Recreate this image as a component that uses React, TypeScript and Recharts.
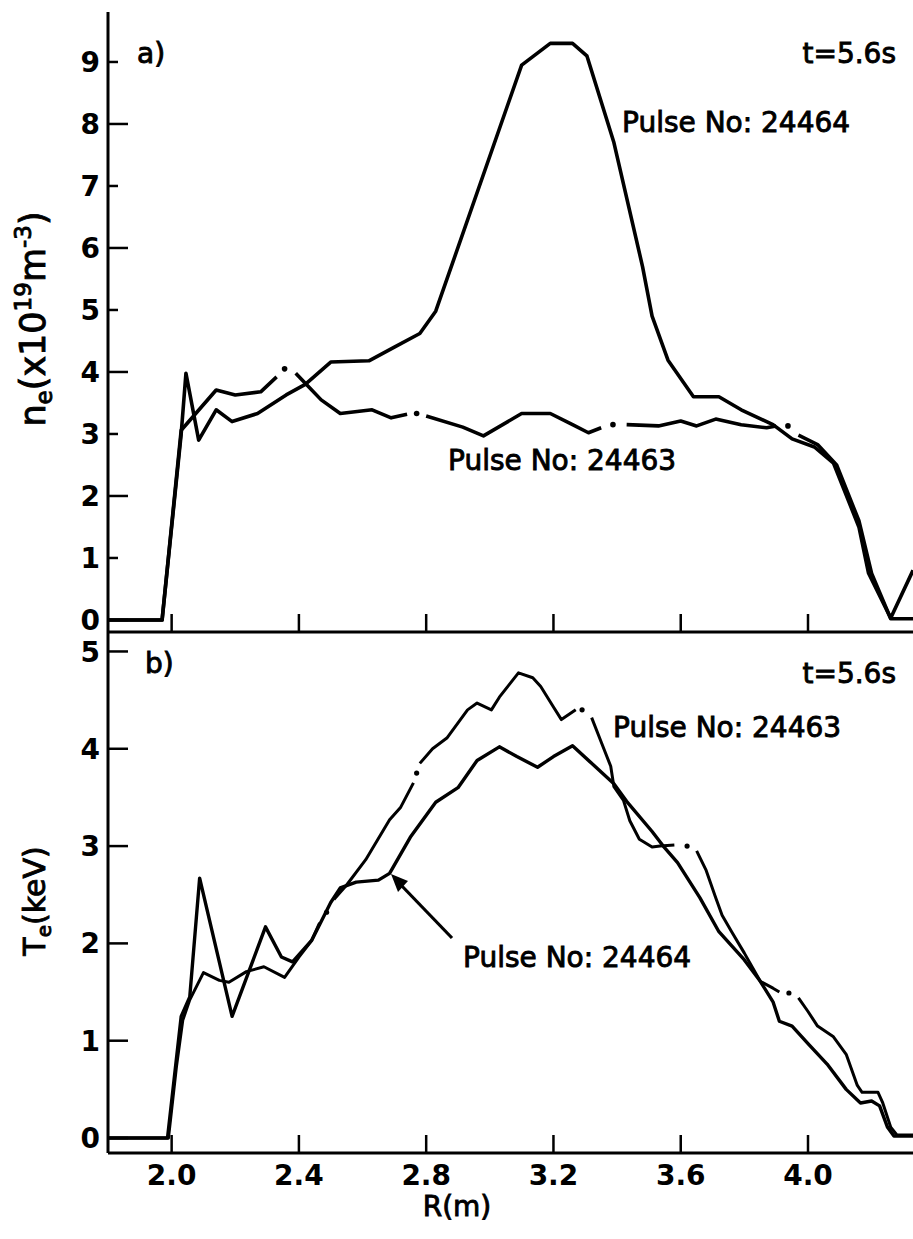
import { ComposedChart, Line, XAxis, YAxis } from "recharts";

type Pt = [number, number | null];

const rTicks = [2.0, 2.4, 2.8, 3.2, 3.6, 4.0];
const neTicks = [0, 1, 2, 3, 4, 5, 6, 7, 8, 9];
const teTicks = [0, 1, 2, 3, 4, 5];

// a) density, Pulse No: 24464 (peaked profile)
const ne24464: Pt[] = [
  [1.8, 0], [1.97, 0], [2.03, 3.0], [2.045, 3.98], [2.085, 2.9], [2.14, 3.39],
  [2.19, 3.2], [2.27, 3.33], [2.36, 3.63], [2.42, 3.8], [2.5, 4.16], [2.62, 4.18],
  [2.7, 4.4], [2.78, 4.62], [2.83, 4.98], [3.1, 8.95], [3.19, 9.3], [3.26, 9.3],
  [3.305, 9.1], [3.39, 7.7], [3.48, 5.7], [3.51, 4.9], [3.56, 4.19], [3.64, 3.6],
  [3.72, 3.6], [3.79, 3.39], [3.89, 3.15], [3.95, 2.92], [4.02, 2.79], [4.08, 2.53],
  [4.16, 1.5], [4.19, 0.76], [4.26, 0.03], [4.33, 0.8],
];

// a) density, Pulse No: 24463 (flat profile, null = gap in the dash-dot trace)
const ne24463: Pt[] = [
  [1.8, 0], [1.97, 0], [2.03, 3.06], [2.14, 3.71], [2.2, 3.63], [2.28, 3.68],
  [2.33, 3.92], [2.355, null], [2.39, 3.98], [2.42, 3.82], [2.47, 3.55], [2.53, 3.33],
  [2.63, 3.39], [2.69, 3.26], [2.74, 3.32], [2.77, null], [2.8, 3.29], [2.915, 3.11],
  [2.98, 2.97], [3.1, 3.33], [3.19, 3.33], [3.26, 3.15], [3.31, 3.02], [3.35, 3.1],
  [3.387, null], [3.43, 3.15], [3.53, 3.13], [3.6, 3.21], [3.65, 3.13], [3.71, 3.24],
  [3.79, 3.15], [3.87, 3.1], [3.9, 3.13], [3.937, null], [3.97, 2.98], [4.03, 2.83],
  [4.09, 2.5], [4.16, 1.6], [4.2, 0.75], [4.26, 0.02], [4.33, 0.02],
];
const ne24463Dots: Pt[] = [[2.355, 4.05], [2.77, 3.33], [3.387, 3.15], [3.937, 3.13]];

// b) temperature, Pulse No: 24464
const te24464: Pt[] = [
  [1.8, 0], [1.987, 0], [2.03, 1.25], [2.057, 1.45], [2.088, 2.67], [2.19, 1.25],
  [2.295, 2.17], [2.345, 1.86], [2.38, 1.81], [2.44, 2.03], [2.5, 2.42], [2.53, 2.57],
  [2.58, 2.63], [2.65, 2.65], [2.685, 2.72], [2.75, 3.09], [2.83, 3.45], [2.9, 3.6],
  [2.96, 3.88], [3.03, 4.02], [3.085, 3.92], [3.15, 3.81], [3.2, 3.92], [3.26, 4.03],
  [3.32, 3.85], [3.39, 3.64], [3.43, 3.46], [3.51, 3.15], [3.545, 3.0], [3.59, 2.83],
  [3.66, 2.47], [3.72, 2.12], [3.8, 1.83], [3.85, 1.61], [3.89, 1.4], [3.91, 1.2],
  [3.95, 1.15], [4.0, 0.97], [4.06, 0.76], [4.12, 0.5], [4.165, 0.36], [4.2, 0.38],
  [4.225, 0.33], [4.25, 0.11], [4.27, 0.02], [4.33, 0.02],
];

// b) temperature, Pulse No: 24463
const te24463: Pt[] = [
  [1.8, 0], [1.99, 0], [2.015, 0.73], [2.035, 1.21], [2.057, 1.42], [2.1, 1.7],
  [2.15, 1.62], [2.18, 1.6], [2.235, 1.71], [2.29, 1.76], [2.355, 1.65], [2.4, 1.86],
  [2.44, 2.03], [2.465, 2.21], [2.487, null], [2.51, 2.45], [2.55, 2.6], [2.61, 2.86],
  [2.685, 3.27], [2.72, 3.4], [2.76, 3.65], [2.77, null], [2.78, 3.85], [2.82, 4.0],
  [2.865, 4.11], [2.93, 4.4], [2.96, 4.47], [3.005, 4.4], [3.03, 4.53], [3.09, 4.78],
  [3.135, 4.73], [3.16, 4.64], [3.2, 4.43], [3.225, 4.3], [3.27, 4.4], [3.29, null],
  [3.32, 4.32], [3.35, 4.07], [3.38, 3.82], [3.39, 3.61], [3.42, 3.47], [3.44, 3.26],
  [3.47, 3.07], [3.51, 2.99], [3.535, 3.0], [3.58, 3.01], [3.62, null], [3.65, 2.95],
  [3.68, 2.75], [3.71, 2.47], [3.73, 2.29], [3.76, 2.12], [3.8, 1.9], [3.85, 1.61],
  [3.89, 1.54], [3.91, 1.5], [3.94, null], [3.97, 1.44], [4.0, 1.3], [4.03, 1.15],
  [4.08, 1.04], [4.12, 0.86], [4.155, 0.54], [4.17, 0.47], [4.22, 0.47], [4.235, 0.36],
  [4.26, 0.11], [4.28, 0.03], [4.33, 0.03],
];
const te24463Dots: Pt[] = [[2.487, 2.32], [2.77, 3.75], [3.29, 4.4], [3.62, 3.0], [3.94, 1.49]];

const rows = (pts: Pt[]) => pts.map(([r, v]) => ({ r, v }));

const FONT = "'DejaVu Sans', sans-serif";
const X_DOMAIN: [number, number] = [1.8, 4.33];

function YTick(props: any) {
  const { x, y, payload, mode } = props;
  const ax = x + 8;
  const len = mode === "alt" ? (payload.value % 2 === 0 ? 20 : 10) : 20;
  return (
    <g>
      <line x1={ax} y1={y} x2={ax + len} y2={y} stroke="#000" strokeWidth={2.5} />
      <text x={x} y={y} dy="0.36em" textAnchor="end" fontFamily={FONT} fontWeight={700} fontSize={28} fill="#000">
        {payload.value}
      </text>
    </g>
  );
}

function XTick(props: any) {
  const { x, y, payload, gap, label } = props;
  const ay = y - gap;
  return (
    <g>
      <line x1={x} y1={ay} x2={x} y2={ay - 18} stroke="#000" strokeWidth={2.5} />
      {label && (
        <text x={x} y={y} dy="0.72em" textAnchor="middle" fontFamily={FONT} fontWeight={700} fontSize={28} fill="#000">
          {payload.value.toFixed(1)}
        </text>
      )}
    </g>
  );
}

const ann = { fontFamily: FONT, fontSize: 28, fill: "#000", stroke: "#000", strokeWidth: 0.9 };

export default function App() {
  return (
    <div style={{ position: "absolute", left: 0, top: 0, width: 913, height: 1239, background: "#fff" }}>
      <div style={{ position: "absolute", left: 0, top: 0 }}>
        <ComposedChart width={913} height={640} margin={{ top: 12, right: 0, bottom: 0, left: 0 }}>
          <XAxis
            dataKey="r"
            type="number"
            domain={X_DOMAIN}
            allowDataOverflow
            ticks={rTicks}
            interval={0}
            height={8}
            tickSize={0}
            tickMargin={0}
            tickLine={false}
            axisLine={{ stroke: "#000", strokeWidth: 3 }}
            tick={(p: any) => <XTick {...p} gap={0} label={false} />}
          />
          <XAxis
            xAxisId="top"
            orientation="top"
            dataKey="r"
            type="number"
            domain={X_DOMAIN}
            allowDataOverflow
            height={0}
            tick={false}
            tickLine={false}
            axisLine={{ stroke: "#000", strokeWidth: 3 }}
          />
          <YAxis
            dataKey="v"
            type="number"
            domain={[-0.194, 9.806]}
            allowDataOverflow
            ticks={neTicks}
            interval={0}
            width={108}
            tickSize={0}
            tickMargin={8}
            tickLine={false}
            axisLine={{ stroke: "#000", strokeWidth: 3 }}
            tick={(p: any) => <YTick {...p} mode="alt" />}
          />
          <Line data={rows(ne24464)} dataKey="v" type="linear" stroke="#000" strokeWidth={3.6} strokeLinejoin="round" dot={false} isAnimationActive={false} />
          <Line data={rows(ne24463)} dataKey="v" type="linear" stroke="#000" strokeWidth={3.6} strokeLinejoin="round" dot={false} connectNulls={false} isAnimationActive={false} />
          <Line data={rows(ne24463Dots)} dataKey="v" stroke="none" strokeWidth={0} dot={{ r: 2.8, fill: "#000", stroke: "none" }} isAnimationActive={false} />
        </ComposedChart>
      </div>

      <div style={{ position: "absolute", left: 0, top: 624 }}>
        <ComposedChart width={913} height={615} margin={{ top: 8, right: 0, bottom: 0, left: 0 }}>
          <XAxis
            dataKey="r"
            type="number"
            domain={X_DOMAIN}
            allowDataOverflow
            ticks={rTicks}
            interval={0}
            height={86}
            tickSize={0}
            tickMargin={12}
            tickLine={false}
            axisLine={{ stroke: "#000", strokeWidth: 3 }}
            tick={(p: any) => <XTick {...p} gap={12} label={true} />}
          />
          <YAxis
            dataKey="v"
            type="number"
            domain={[-0.154, 5.2]}
            allowDataOverflow
            ticks={teTicks}
            interval={0}
            width={108}
            tickSize={0}
            tickMargin={8}
            tickLine={false}
            axisLine={{ stroke: "#000", strokeWidth: 3 }}
            tick={(p: any) => <YTick {...p} mode="long" />}
          />
          <Line data={rows(te24464)} dataKey="v" type="linear" stroke="#000" strokeWidth={3.4} strokeLinejoin="round" dot={false} isAnimationActive={false} />
          <Line data={rows(te24463)} dataKey="v" type="linear" stroke="#000" strokeWidth={3} strokeLinejoin="round" dot={false} connectNulls={false} isAnimationActive={false} />
          <Line data={rows(te24463Dots)} dataKey="v" stroke="none" strokeWidth={0} dot={{ r: 2.6, fill: "#000", stroke: "none" }} isAnimationActive={false} />
        </ComposedChart>
      </div>

      <svg width={913} height={1239} style={{ position: "absolute", left: 0, top: 0, pointerEvents: "none" }}>
        <text x={137} y={63} {...ann}>a)</text>
        <text x={896} y={63} textAnchor="end" {...ann}>t=5.6s</text>
        <text x={622} y={132} {...ann}>Pulse No: 24464</text>
        <text x={448} y={470} {...ann}>Pulse No: 24463</text>

        <text x={145} y={673} {...ann}>b)</text>
        <text x={896} y={683} textAnchor="end" {...ann}>t=5.6s</text>
        <text x={613} y={737} {...ann}>Pulse No: 24463</text>
        <text x={463} y={967} {...ann}>Pulse No: 24464</text>
        <line x1={452} y1={938} x2={400} y2={884} stroke="#000" strokeWidth={3.2} />
        <polygon points="391,874 408,881 398,892" fill="#000" />

        <text x={45} y={319} transform="rotate(-90 45 319)" textAnchor="middle" {...ann} fontSize={35}>
          n<tspan fontSize={23} dy={7}>e</tspan>
          <tspan dy={-7}>(x10</tspan>
          <tspan fontSize={23} dy={-14}>19</tspan>
          <tspan dy={14}>m</tspan>
          <tspan fontSize={23} dy={-14}>-3</tspan>
          <tspan dy={14}>)</tspan>
        </text>
        <text x={45} y={901} transform="rotate(-90 45 901)" textAnchor="middle" {...ann} fontSize={30}>
          T<tspan fontSize={20} dy={6}>e</tspan>
          <tspan dy={-6}>(keV)</tspan>
        </text>
        <text x={457} y={1216} textAnchor="middle" {...ann}>R(m)</text>
      </svg>
    </div>
  );
}
